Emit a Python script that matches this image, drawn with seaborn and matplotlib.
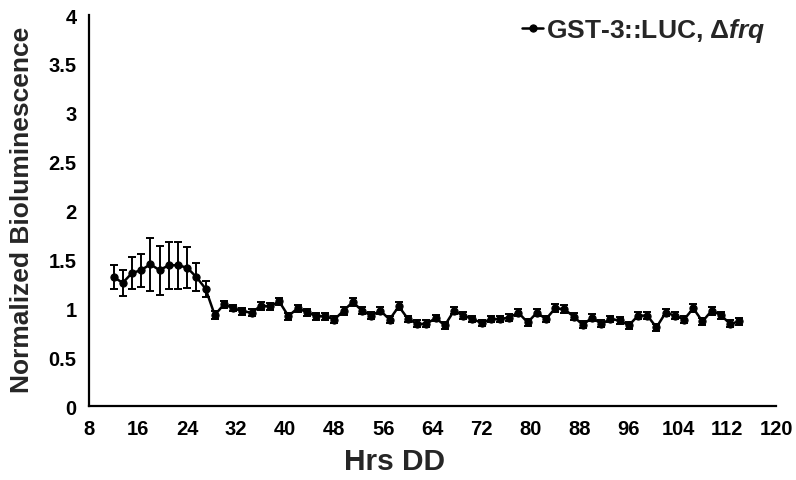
import numpy as np
import pandas as pd
import matplotlib
matplotlib.use("Agg")
import matplotlib.pyplot as plt
import seaborn as sns

# Sampling times (hours in constant darkness), one reading every 1.5 h
hours = np.arange(12, 115.5, 1.5)

# Normalized bioluminescence (mean) for GST-3::LUC in the Δfrq background
biolum = [
    1.32, 1.26, 1.36, 1.39, 1.45, 1.39, 1.44, 1.44, 1.415, 1.32,
    1.20, 0.93, 1.04, 1.00, 0.97, 0.955, 1.025, 1.02, 1.07, 0.92,
    1.00, 0.96, 0.92, 0.92, 0.885, 0.975, 1.065, 0.975, 0.925, 0.975,
    0.885, 1.02, 0.89, 0.84, 0.84, 0.90, 0.825, 0.975, 0.925, 0.89,
    0.85, 0.89, 0.89, 0.905, 0.955, 0.855, 0.955, 0.89, 1.00, 0.99,
    0.915, 0.83, 0.905, 0.84, 0.89, 0.875, 0.825, 0.925, 0.925, 0.805,
    0.955, 0.925, 0.885, 1.00, 0.865, 0.975, 0.93, 0.84, 0.865,
]

# Standard error of each reading
sem = [
    0.12, 0.13, 0.16, 0.17, 0.27, 0.25, 0.24, 0.24, 0.21, 0.14,
    0.08, 0.04, 0.035, 0.03, 0.035, 0.035, 0.04, 0.035, 0.04, 0.035,
    0.035, 0.035, 0.035, 0.035, 0.035, 0.04, 0.04, 0.035, 0.035, 0.035,
    0.035, 0.04, 0.035, 0.035, 0.035, 0.035, 0.035, 0.035, 0.035, 0.035,
    0.035, 0.035, 0.035, 0.035, 0.035, 0.035, 0.035, 0.035, 0.04, 0.04,
    0.035, 0.035, 0.035, 0.035, 0.035, 0.035, 0.035, 0.035, 0.035, 0.035,
    0.035, 0.035, 0.035, 0.04, 0.035, 0.04, 0.035, 0.035, 0.035,
]

x_ticks = list(range(8, 121, 8))
y_ticks = [0, 0.5, 1, 1.5, 2, 2.5, 3, 3.5, 4]
y_tick_labels = ["0", "0.5", "1", "1.5", "2", "2.5", "3", "3.5", "4"]
series_label = "GST-3::LUC, Δ$frq$"

df = pd.DataFrame({"Hrs DD": hours, "Bioluminescence": biolum, "sem": sem})

sns.set_style("white")
plt.rcParams["font.family"] = ["Liberation Sans", "DejaVu Sans"]
plt.rcParams["font.weight"] = "bold"
plt.rcParams["mathtext.fontset"] = "custom"
plt.rcParams["mathtext.it"] = "Liberation Sans:italic:bold"
plt.rcParams["mathtext.rm"] = "Liberation Sans:bold"

fig = plt.figure(figsize=(7.96, 4.81), dpi=100)
ax = fig.add_axes([0.1118, 0.1538, 0.8632, 0.8129])

ax.errorbar(df["Hrs DD"], df["Bioluminescence"], yerr=df["sem"], fmt="none",
            ecolor="black", elinewidth=1.4, capsize=2.6, capthick=1.4, zorder=2)
sns.lineplot(data=df, x="Hrs DD", y="Bioluminescence", ax=ax, color="black",
             linewidth=1.8, marker="o", markersize=5.2, markeredgecolor="black",
             markerfacecolor="black", label=series_label, zorder=3)

ax.set_xlim(8, 120)
ax.set_ylim(0, 4)
ax.set_xticks(x_ticks)
ax.set_xticklabels([str(t) for t in x_ticks])
ax.set_yticks(y_ticks)
ax.set_yticklabels(y_tick_labels)

for side in ["top", "right"]:
    ax.spines[side].set_visible(False)
for side in ["left", "bottom"]:
    ax.spines[side].set_color("black")
    ax.spines[side].set_linewidth(1.6)

ax.tick_params(axis="both", direction="out", length=5, width=1.6,
               colors="black", labelsize=14.5, pad=4)
for lab in ax.get_xticklabels() + ax.get_yticklabels():
    lab.set_fontweight("bold")

ax.set_xlabel("Hrs DD", fontsize=21.5, fontweight="bold")
ax.xaxis.set_label_coords(0.444, -0.105)
ax.set_ylabel("Normalized Bioluminescence", fontsize=19, fontweight="bold")
ax.yaxis.set_label_coords(-0.08, 0.505)

leg = ax.legend(loc="upper right", frameon=False, handlelength=0.8,
                handletextpad=0.1, borderaxespad=0.0,
                bbox_to_anchor=(1.0, 1.025),
                prop={"family": "Liberation Sans", "weight": "bold", "size": 19})

fig.savefig("out.png", dpi=100, facecolor="white")
